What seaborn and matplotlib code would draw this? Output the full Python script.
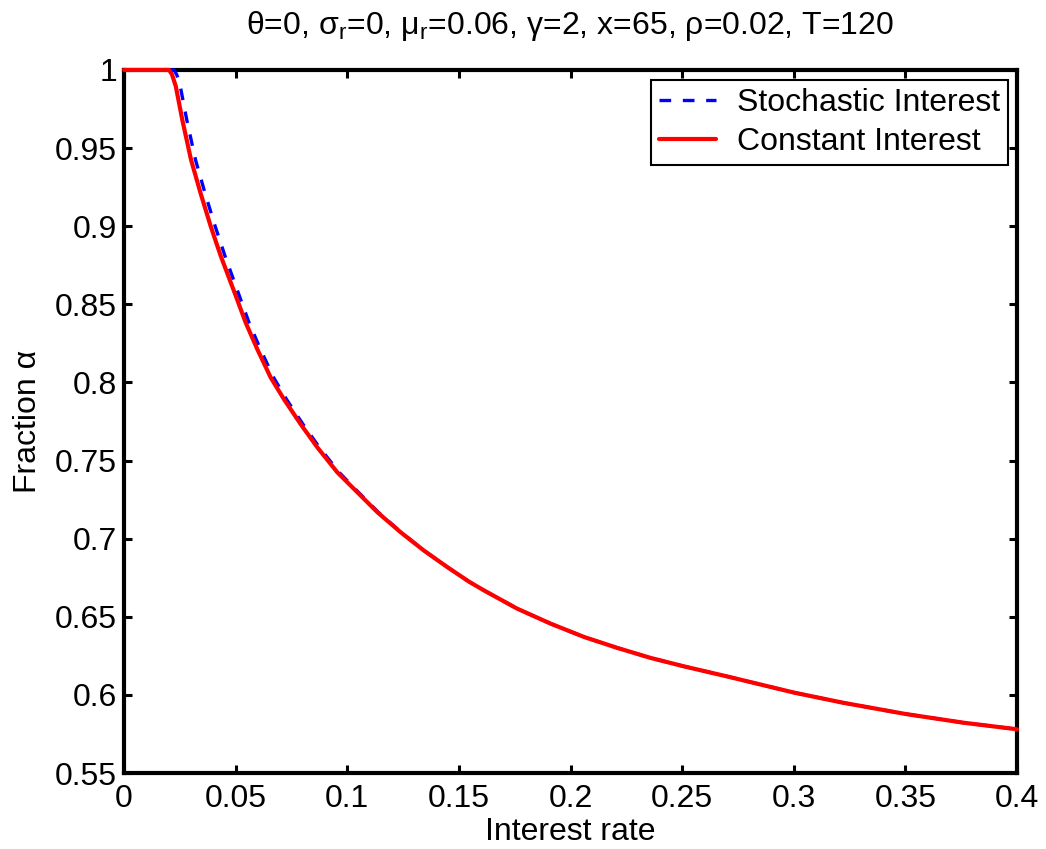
import matplotlib
matplotlib.use("Agg")
import matplotlib.pyplot as plt
import pandas as pd
import seaborn as sns

# values
const_rate = [0.0, 0.0202, 0.0215, 0.0232, 0.0261, 0.0300, 0.0343, 0.0388, 0.0433,
              0.0501, 0.0545, 0.0597, 0.0657, 0.0716, 0.0791, 0.0866, 0.0955, 0.1045,
              0.1135, 0.1239, 0.1343, 0.1448, 0.1545, 0.1612, 0.1761, 0.1911, 0.2060,
              0.2209, 0.2358, 0.2507, 0.2702, 0.3000, 0.3220, 0.3500, 0.3760, 0.4000]
const_frac = [1.0, 1.0, 0.997, 0.9894, 0.968, 0.9425, 0.921, 0.900, 0.881,
              0.8552, 0.8382, 0.8212, 0.8031, 0.7893, 0.7733, 0.7584, 0.7425, 0.7297,
              0.7169, 0.7041, 0.6924, 0.6818, 0.6725, 0.6669, 0.6552, 0.6456, 0.6371,
              0.6301, 0.6237, 0.6183, 0.6118, 0.6015, 0.5950, 0.5878, 0.5822, 0.5780]

stoch_rate = [0.0, 0.0224, 0.0236, 0.0252, 0.0281, 0.0320, 0.0363, 0.0408, 0.0452,
              0.0517, 0.0560, 0.0611, 0.0670, 0.0727, 0.0801, 0.0875, 0.0963, 0.1050,
              0.1139, 0.1241, 0.1343, 0.1448, 0.1545, 0.1612, 0.1761, 0.1911, 0.2060,
              0.2209, 0.2358, 0.2507, 0.2702, 0.3000, 0.3220, 0.3500, 0.3760, 0.4000]
stoch_frac = [1.0, 1.0, 0.997, 0.9894, 0.968, 0.9425, 0.921, 0.900, 0.881,
              0.8552, 0.8382, 0.8212, 0.8031, 0.7893, 0.7733, 0.7584, 0.7425, 0.7297,
              0.7169, 0.7041, 0.6924, 0.6818, 0.6725, 0.6669, 0.6552, 0.6456, 0.6371,
              0.6301, 0.6237, 0.6183, 0.6118, 0.6015, 0.5950, 0.5878, 0.5822, 0.5780]

x_ticks = [0, 0.05, 0.1, 0.15, 0.2, 0.25, 0.3, 0.35, 0.4]
x_labels = ["0", "0.05", "0.1", "0.15", "0.2", "0.25", "0.3", "0.35", "0.4"]
y_ticks = [0.55, 0.6, 0.65, 0.7, 0.75, 0.8, 0.85, 0.9, 0.95, 1.0]
y_labels = ["0.55", "0.6", "0.65", "0.7", "0.75", "0.8", "0.85", "0.9", "0.95", "1"]

sns.set_theme(style="white")
plt.rcParams["font.family"] = ["Liberation Sans", "DejaVu Sans"]
plt.rcParams["mathtext.fontset"] = "custom"
plt.rcParams["mathtext.rm"] = "Liberation Sans"
plt.rcParams["mathtext.it"] = "Liberation Sans:italic"
plt.rcParams["mathtext.sf"] = "Liberation Sans"
plt.rcParams["text.color"] = "black"
plt.rcParams["axes.labelcolor"] = "black"

FS = 23

stoch = pd.DataFrame({"rate": stoch_rate, "frac": stoch_frac})
const = pd.DataFrame({"rate": const_rate, "frac": const_frac})

fig = plt.figure(figsize=(10.46, 8.49), dpi=100)
ax = fig.add_axes([0.1186, 0.0895, 0.8537, 0.8281])

sns.lineplot(data=stoch, x="rate", y="frac", color="#0000ff", lw=2.4,
             linestyle="--", label="Stochastic Interest", sort=False, ax=ax)
sns.lineplot(data=const, x="rate", y="frac", color="#ff0000", lw=3.0,
             label="Constant Interest", sort=False, ax=ax)
ax.lines[0].set_dashes((3.5, 3.5))
for ln in ax.lines:
    ln.set_clip_on(False)
    ln.set_zorder(3)

ax.set_xlim(0, 0.4)
ax.set_ylim(0.55, 1.0)
ax.set_xticks(x_ticks)
ax.set_xticklabels(x_labels)
ax.set_yticks(y_ticks)
ax.set_yticklabels(y_labels)
ax.tick_params(direction="in", length=6, width=2.2, labelsize=FS, colors="black",
               top=True, right=True, bottom=True, left=True)
ax.tick_params(axis="x", pad=8)
ax.tick_params(axis="y", pad=5)
for sp in ax.spines.values():
    sp.set_linewidth(3)
    sp.set_color("black")

ax.set_xlabel("Interest rate", fontsize=FS)
ax.set_ylabel("Fraction α", fontsize=FS)
ax.xaxis.set_label_coords(0.5, -0.062)
ax.yaxis.set_label_coords(-0.108, 0.5)
ax.yaxis.label.set_va("center")
ax.set_title("θ=0, σ$_\\mathrm{r}$=0, μ$_\\mathrm{r}$=0.06, γ=2, x=65, ρ=0.02, T=120",
             fontsize=FS, pad=26)

leg = ax.legend(loc="upper right", bbox_to_anchor=(0.990, 0.986), fontsize=FS,
                frameon=True, fancybox=False, handlelength=1.8, handletextpad=0.65,
                labelspacing=0.28, borderpad=0.25, borderaxespad=0)
leg.get_frame().set_edgecolor("black")
leg.get_frame().set_linewidth(1.5)
leg.get_frame().set_alpha(1)
leg.set_zorder(5)

fig.savefig("out.png", dpi=100, facecolor="white")
